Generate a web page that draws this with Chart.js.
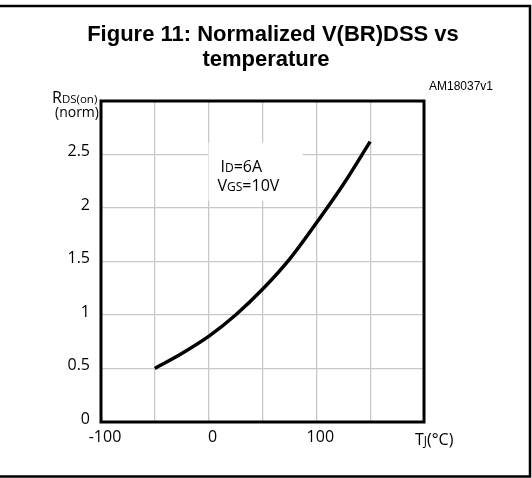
<!DOCTYPE html>
<html>
<head>
<meta charset="utf-8">
<script src="https://cdn.jsdelivr.net/npm/chart.js@4"></script>
<style>
html,body{margin:0;padding:0;background:#fff;}
#wrap{width:532px;height:478px;position:relative;}
</style>
</head>
<body>
<div id="wrap"><canvas id="c" width="532" height="478"></canvas></div>
<script>
// ---- data ----
const tempC = [-50, -25, 0, 25, 50, 75, 100, 125, 150];
const rdsNorm = [0.50, 0.64, 0.80, 1.00, 1.24, 1.52, 1.86, 2.22, 2.62];
const xTickLabels = {"-100": "-100", "0": "0", "100": "100"};
const yTickLabels = {"0": "0", "0.5": "0.5", "1": "1", "1.5": "1.5", "2": "2", "2.5": "2.5"};
const titleLines = ["Figure 11: Normalized V(BR)DSS vs", "temperature"];
const figureCode = "AM18037v1";
const annotationLines = [["I", "D", "=6A"], ["V", "GS", "=10V"]];
const annotationAt = {x: 11, y: 2.34};

const TICK_FONT = '"Open Sans", "Noto Sans", sans-serif';

function drawSubText(ctx, x, y, parts, big, small) {
  ctx.textBaseline = 'alphabetic';
  ctx.textAlign = 'left';
  let cx = x;
  ctx.font = big + 'px ' + TICK_FONT;
  ctx.fillText(parts[0], cx, y); cx += ctx.measureText(parts[0]).width;
  ctx.font = small + 'px ' + TICK_FONT;
  ctx.fillText(parts[1], cx, y); cx += ctx.measureText(parts[1]).width;
  if (parts[2]) {
    ctx.font = big + 'px ' + TICK_FONT;
    ctx.fillText(parts[2], cx, y); cx += ctx.measureText(parts[2]).width;
  }
  return cx - x;
}

const decor = {
  id: 'decor',
  beforeDraw(chart) {
    const ctx = chart.ctx;
    ctx.save();
    ctx.fillStyle = '#fff';
    ctx.fillRect(0, 0, chart.width, chart.height);
    ctx.restore();
  },
  beforeDatasetsDraw(chart) {
    const ctx = chart.ctx;
    const xs = chart.scales.x, ys = chart.scales.y;
    const ax = xs.getPixelForValue(annotationAt.x);
    const ay = ys.getPixelForValue(annotationAt.y);
    ctx.save();
    ctx.fillStyle = '#fff';
    ctx.fillRect(ax - 12, ay - 29, 94, 58);
    ctx.fillStyle = '#000';
    drawSubText(ctx, ax, ay, annotationLines[0], 16, 12);
    drawSubText(ctx, ax - 3, ay + 19, annotationLines[1], 16, 12);
    ctx.restore();
  },
  afterDraw(chart) {
    const ctx = chart.ctx;
    const a = chart.chartArea;
    ctx.save();
    ctx.strokeStyle = '#000';
    ctx.lineWidth = 3;
    ctx.strokeRect(a.left, a.top, a.right - a.left, a.bottom - a.top);
    ctx.lineWidth = 2.5;
    ctx.beginPath();
    ctx.moveTo(0, 6); ctx.lineTo(530, 6); ctx.lineTo(530, 476.5); ctx.lineTo(0, 476.5);
    ctx.stroke();
    ctx.fillStyle = '#000';
    ctx.textAlign = 'center';
    ctx.textBaseline = 'alphabetic';
    ctx.font = 'bold 22px "Liberation Sans", Arial, sans-serif';
    ctx.fillText(titleLines[0], 273, 41);
    ctx.fillText(titleLines[1], 266, 66);
    ctx.font = '12px "Liberation Sans", Arial, sans-serif';
    ctx.textAlign = 'left';
    ctx.fillText(figureCode, 429, 90);
    drawSubText(ctx, 52, 103, ["R", "DS(on)", ""], 16, 11.5);
    ctx.font = '14px ' + TICK_FONT;
    ctx.textAlign = 'left';
    ctx.fillText('(norm)', 55, 117);
    drawSubText(ctx, 415, 445, ["T", "J", "(°C)"], 16, 12);
    ctx.restore();
  }
};

new Chart(document.getElementById('c'), {
  type: 'line',
  data: {
    datasets: [{
      data: tempC.map((t, i) => ({x: t, y: rdsNorm[i]})),
      borderColor: '#000',
      borderWidth: 3.5,
      pointRadius: 0,
      fill: false,
      cubicInterpolationMode: 'monotone'
    }]
  },
  options: {
    responsive: false,
    animation: false,
    layout: {padding: {left: 0, top: 101, right: 108, bottom: 0}},
    plugins: {legend: {display: false}, title: {display: false}, tooltip: {enabled: false}},
    scales: {
      x: {
        type: 'linear', min: -100, max: 200,
        afterFit(s) { s.height = 56; },
        ticks: {
          stepSize: 50, autoSkip: false, maxRotation: 0, padding: 6, labelOffset: 4,
          color: '#000', font: {family: TICK_FONT, size: 16},
          callback: v => xTickLabels[String(v)] || ''
        },
        grid: {color: '#c8c8c8', lineWidth: 1.3, drawTicks: false},
        border: {display: false}
      },
      y: {
        type: 'linear', min: 0, max: 3,
        afterFit(s) { s.width = 101; },
        ticks: {
          stepSize: 0.5, autoSkip: false, padding: 11, labelOffset: -3,
          color: '#000', font: {family: TICK_FONT, size: 16},
          callback: v => yTickLabels[String(v)] || ''
        },
        grid: {color: '#c8c8c8', lineWidth: 1.3, drawTicks: false},
        border: {display: false}
      }
    }
  },
  plugins: [decor]
});
</script>
</body>
</html>
